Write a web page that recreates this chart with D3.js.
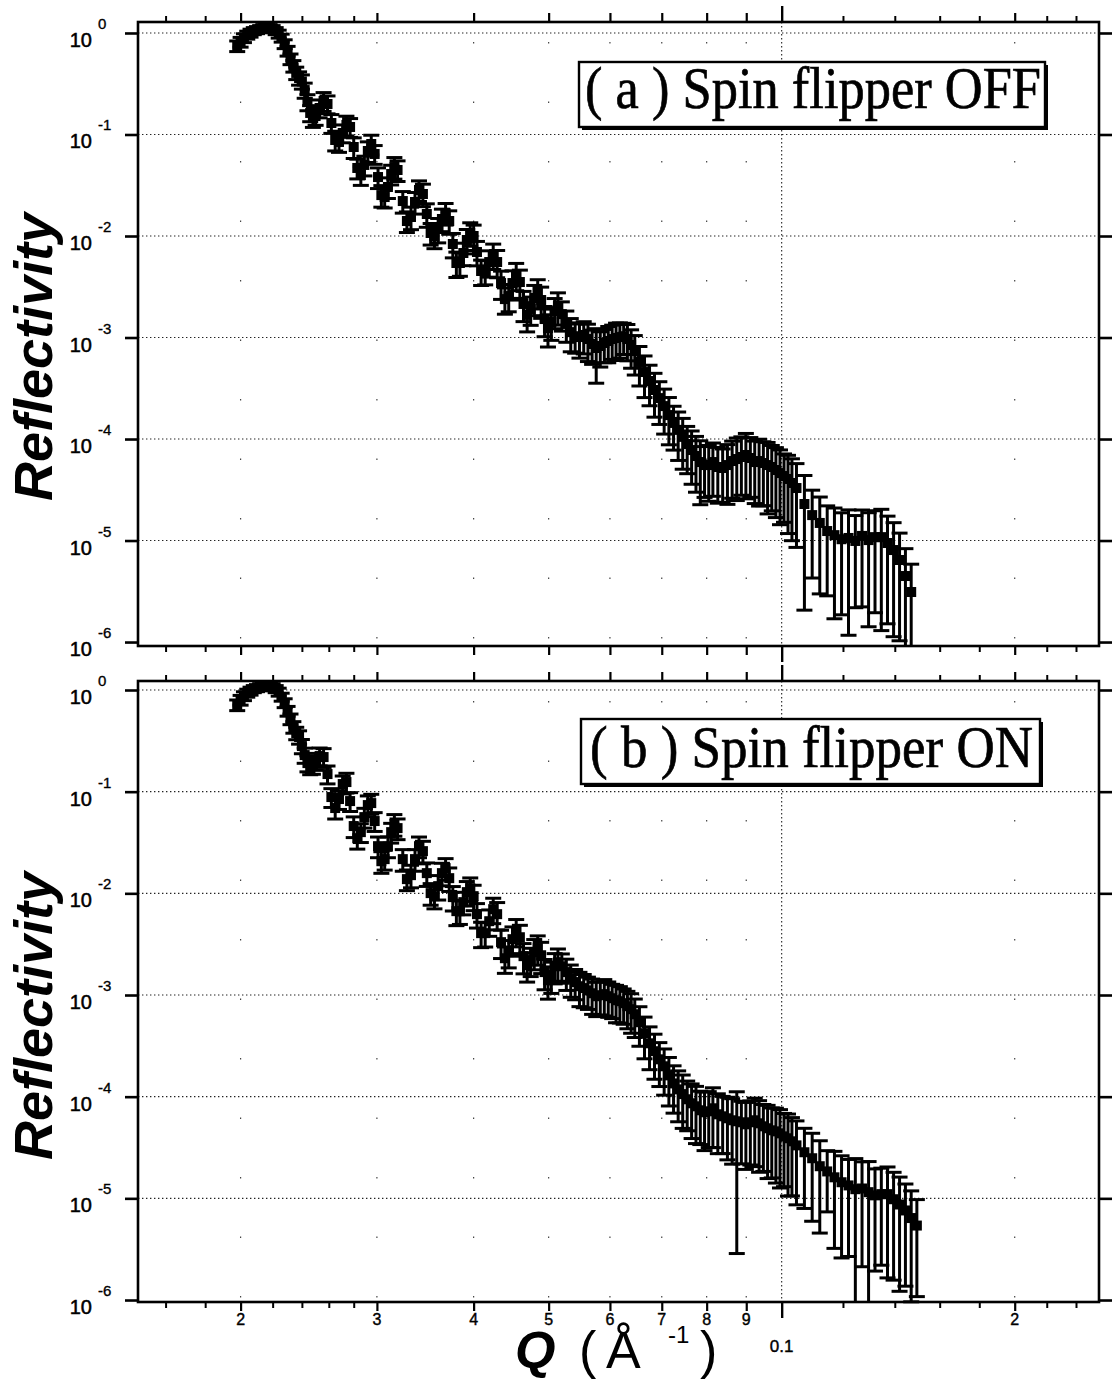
<!DOCTYPE html>
<html>
<head>
<meta charset="utf-8">
<script src="https://cdn.jsdelivr.net/npm/d3@7"></script>
<style>
  body { margin: 0; background: #fff; }
  svg { display: block; }
</style>
</head>
<body>
<div id="chart"></div>
<script>
// Q (1/A), shared by both measurements
const q = [
  0.0198, 0.0200, 0.0202, 0.0204, 0.0206, 0.0208, 0.0210, 0.0212, 0.0214, 0.0216, 0.0218, 0.0220, 0.0222, 0.0224,
  0.0226, 0.0228, 0.0230, 0.0232, 0.0234, 0.0236, 0.0238, 0.0240, 0.0242, 0.0244, 0.0246, 0.0248, 0.0250,
  0.0253, 0.0256, 0.0259, 0.0262, 0.0265, 0.0268, 0.0271, 0.0274, 0.0277, 0.0280, 0.0283, 0.0286,
  0.0289, 0.0292, 0.0295, 0.0298, 0.0301, 0.0304, 0.0307, 0.0310, 0.0313, 0.0316, 0.0319,
  0.0324, 0.0328, 0.0332, 0.0336, 0.0340, 0.0344, 0.0348, 0.0352, 0.0356, 0.0360, 0.0364,
  0.0368, 0.0372, 0.0376, 0.0380, 0.0384, 0.0388, 0.0392, 0.0396, 0.0400, 0.0404,
  0.0409, 0.0414, 0.0419, 0.0424, 0.0429, 0.0434, 0.0439, 0.0444, 0.0449, 0.0454, 0.0459,
  0.0464, 0.0469, 0.0474, 0.0479, 0.0484, 0.0489, 0.0494, 0.0499, 0.0504, 0.0509, 0.0514,
  0.0520, 0.0527, 0.0534, 0.0541, 0.0548, 0.0555, 0.0562, 0.0569, 0.0576, 0.0583,
  0.0590, 0.0597, 0.0604, 0.0611, 0.0618, 0.0625, 0.0632, 0.0639, 0.0646,
  0.0655, 0.0665, 0.0675, 0.0685, 0.0695, 0.0705, 0.0715, 0.0725, 0.0735,
  0.0745, 0.0755, 0.0765, 0.0775, 0.0785, 0.0795, 0.0805, 0.0815,
  0.0827, 0.0839, 0.0851, 0.0863, 0.0875, 0.0887, 0.0899, 0.0911, 0.0923,
  0.0935, 0.0947, 0.0959, 0.0971, 0.0983, 0.0995, 0.1007, 0.1019, 0.1031,
  0.1045, 0.1070, 0.1095, 0.1120, 0.1145, 0.1170, 0.1195, 0.1220, 0.1245, 0.1270,
  0.1295, 0.1320, 0.1345, 0.1370, 0.1395, 0.1420, 0.1445, 0.1470, 0.1495, 0.1520
];

// (a) spin flipper OFF
const rOff = [
  0.745, 0.815, 0.893, 0.956, 1.0, 1.046, 1.07, 1.095, 1.12, 1.12, 1.12, 1.095, 1.046, 0.978,
  0.893, 0.779, 0.665, 0.554, 0.473, 0.404, 0.36, 0.333, 0.274, 0.209, 0.163, 0.145, 0.152,
  0.1824, 0.2138, 0.1998, 0.1298, 0.0883, 0.0844, 0.1035, 0.1241, 0.1186, 0.0753, 0.0468, 0.0399,
  0.0501, 0.0688, 0.0806, 0.0643, 0.0381, 0.0253, 0.0242, 0.0304, 0.0408, 0.0478, 0.0447,
  0.0221, 0.01405, 0.01539, 0.02163, 0.02839, 0.02593, 0.01647, 0.01071, 0.0100, 0.01172, 0.01471,
  0.01685, 0.01405, 0.00834, 0.00542, 0.00542, 0.0068, 0.00913, 0.01071, 0.0100, 0.00696,
  0.00452, 0.00452, 0.00554, 0.0065, 0.00554, 0.00344, 0.00239, 0.00256, 0.00344, 0.00413, 0.00352,
  0.00214, 0.00167, 0.00191, 0.00245, 0.00281, 0.00234, 0.00152, 0.00124, 0.00142, 0.00182, 0.00204,
  0.0017, 0.00136, 0.00113, 0.00103, 0.00101, 0.00106, 0.000966, 0.000863, 0.000788, 0.000825,
  0.000883, 0.000924, 0.000966, 0.000989, 0.00101, 0.00103, 0.000966, 0.000844, 0.000736,
  0.000574, 0.000457, 0.000373, 0.000304, 0.000253, 0.000211, 0.000172, 0.000144, 0.000123,
  0.000105, 8.93e-5, 7.79e-5, 6.8e-5, 5.93e-5, 5.54e-5, 5.54e-5, 5.93e-5,
  5.3e-5, 5.18e-5, 5.54e-5, 6.07e-5, 6.35e-5, 6.65e-5, 6.96e-5, 6.5e-5, 5.93e-5,
  6.07e-5, 5.8e-5, 5.54e-5, 5.3e-5, 4.95e-5, 4.62e-5, 4.32e-5, 4.04e-5, 3.69e-5,
  3.29e-5, 2.29e-5, 1.78e-5, 1.49e-5, 1.24e-5, 1.13e-5, 1.03e-5, 1.06e-5, 9.9e-6, 1.11e-5,
  1.01e-5, 1.08e-5, 1.08e-5, 9.45e-6, 8.06e-6, 6.43e-6, 4.47e-6, 3.11e-6, null, null
];
const errOff = [
  0.12, 0.11, 0.10, 0.09, 0.09, 0.08, 0.08, 0.08, 0.08, 0.08, 0.08, 0.08, 0.08, 0.09,
  0.09, 0.10, 0.11, 0.12, 0.13, 0.14, 0.15, 0.16, 0.17, 0.18, 0.18, 0.19, 0.19,
  0.20, 0.21, 0.20, 0.21, 0.22, 0.21, 0.20, 0.22, 0.21, 0.23, 0.22, 0.21,
  0.22, 0.23, 0.22, 0.21, 0.23, 0.24, 0.22, 0.23, 0.22, 0.24, 0.23,
  0.24, 0.23, 0.25, 0.24, 0.23, 0.25, 0.26, 0.24, 0.25, 0.27, 0.25,
  0.24, 0.26, 0.27, 0.28, 0.26, 0.25, 0.27, 0.26, 0.28, 0.27,
  0.28, 0.27, 0.29, 0.28, 0.30, 0.31, 0.29, 0.30, 0.32, 0.30, 0.31,
  0.33, 0.32, 0.31, 0.33, 0.32, 0.34, 0.33, 0.35, 0.34, 0.33, 0.35,
  0.32, 0.34, 0.36, 0.32, 0.38, 0.35, 0.40, 0.37, 0.55, 0.38,
  0.36, 0.39, 0.37, 0.40, 0.38, 0.34, 0.39, 0.41, 0.42,
  0.42, 0.44, 0.43, 0.46, 0.45, 0.47, 0.49, 0.46, 0.50,
  0.52, 0.49, 0.54, 0.56, 0.62, 0.52, 0.56, 0.54,
  0.56, 0.54, 0.59, 0.57, 0.61, 0.58, 0.63, 0.59, 0.61,
  0.64, 0.62, 0.67, 0.63, 0.66, 0.69, 0.65, 0.71, 0.73,
  0.74, 0.91, 0.76, 0.80, 0.77, 0.85, 0.82, 0.89, 0.78, 0.80,
  0.86, 0.82, 0.88, 0.84, 0.86, 0.84, 0.86, 0.88, null, null
];

// (b) spin flipper ON
const rOn = [
  0.712, 0.797, 0.873, 0.934, 0.978, 1.023, 1.046, 1.07, 1.095, 1.095, 1.095, 1.07, 1.023, 0.956,
  0.853, 0.745, 0.621, 0.518, 0.432, 0.377, 0.345, 0.281, 0.229, 0.191, 0.179, 0.183, 0.2,
  0.224, 0.219, 0.149, 0.0885, 0.069, 0.0846, 0.1188, 0.1243, 0.0808, 0.0459, 0.0349, 0.04,
  0.0562, 0.0738, 0.0772, 0.0514, 0.0291, 0.0207, 0.0217, 0.0291, 0.04, 0.048, 0.0438,
  0.0217, 0.0138, 0.0151, 0.0217, 0.0291, 0.026, 0.0158, 0.01005, 0.00938, 0.01177, 0.0158,
  0.0177, 0.0141, 0.00918, 0.00668, 0.00668, 0.00819, 0.01028, 0.01125, 0.00938, 0.00624,
  0.00406, 0.00406, 0.00532, 0.00699, 0.00624, 0.00331, 0.0023, 0.00264, 0.00354, 0.00425, 0.0037,
  0.00241, 0.00197, 0.0022, 0.00264, 0.00289, 0.00246, 0.00168, 0.0014, 0.00157, 0.00192, 0.0021,
  0.00192, 0.00168, 0.00146, 0.00134, 0.00122, 0.00117, 0.00111, 0.00104, 0.000973, 0.000995,
  0.00102, 0.000973, 0.00093, 0.000889, 0.000869, 0.000831, 0.000776, 0.000725, 0.000647,
  0.00054, 0.000421, 0.000335, 0.00028, 0.000233, 0.000199, 0.000162, 0.000135, 0.000118,
  0.000106, 9.43e-5, 8.61e-5, 8.04e-5, 7.35e-5, 7.02e-5, 7.18e-5, 7.69e-5,
  6.71e-5, 6.41e-5, 6.13e-5, 5.86e-5, 5.73e-5, 5.6e-5, 5.35e-5, 5.6e-5, 5.86e-5,
  5.47e-5, 5.11e-5, 4.89e-5, 4.67e-5, 4.56e-5, 4.36e-5, 4.07e-5, 3.9e-5, 3.64e-5,
  3.32e-5, 2.84e-5, 2.48e-5, 2.07e-5, 1.84e-5, 1.61e-5, 1.44e-5, 1.34e-5, 1.23e-5, 1.25e-5,
  1.15e-5, 1.07e-5, 1.1e-5, 1.1e-5, 9.8e-6, 8.7e-6, 7.6e-6, 6.4e-6, 5.4e-6, null
];
const errOn = [
  0.12, 0.11, 0.10, 0.09, 0.09, 0.08, 0.08, 0.08, 0.08, 0.08, 0.08, 0.08, 0.08, 0.09,
  0.09, 0.10, 0.11, 0.12, 0.13, 0.14, 0.15, 0.16, 0.17, 0.18, 0.18, 0.19, 0.19,
  0.20, 0.21, 0.20, 0.21, 0.22, 0.21, 0.20, 0.22, 0.21, 0.23, 0.22, 0.21,
  0.22, 0.23, 0.22, 0.21, 0.23, 0.24, 0.22, 0.23, 0.22, 0.24, 0.23,
  0.24, 0.23, 0.25, 0.24, 0.23, 0.25, 0.26, 0.24, 0.25, 0.27, 0.25,
  0.24, 0.26, 0.27, 0.28, 0.26, 0.25, 0.27, 0.26, 0.28, 0.27,
  0.28, 0.27, 0.29, 0.28, 0.30, 0.31, 0.29, 0.30, 0.32, 0.30, 0.31,
  0.33, 0.32, 0.31, 0.33, 0.32, 0.34, 0.33, 0.35, 0.34, 0.33, 0.35,
  0.32, 0.34, 0.35, 0.33, 0.37, 0.36, 0.35, 0.38, 0.37, 0.36,
  0.39, 0.38, 0.37, 0.40, 0.39, 0.38, 0.40, 0.42, 0.41,
  0.42, 0.44, 0.45, 0.47, 0.46, 0.48, 0.50, 0.49, 0.52,
  0.54, 0.51, 0.55, 0.57, 0.54, 0.58, 0.56, 0.59,
  0.59, 0.57, 0.61, 0.63, 0.95, 0.61, 0.64, 0.62, 0.65,
  0.67, 0.64, 0.68, 0.66, 0.69, 0.71, 0.68, 0.73, 0.71,
  0.74, 0.72, 0.76, 0.78, 0.60, 0.80, 0.82, 0.80, 1.0, 0.83,
  1.0, 0.82, 0.80, 0.85, 0.84, 0.86, 0.82, 0.85, 0.80, null
];

// ticks
const xMajorTicks = [0.02, 0.03, 0.04, 0.05, 0.06, 0.07, 0.08, 0.09, 0.2];
const xMajorLabels = ["2", "3", "4", "5", "6", "7", "8", "9", "2"];
const xMinorTicks = [0.016, 0.018, 0.022, 0.024, 0.026, 0.028, 0.12, 0.14, 0.16, 0.18, 0.22, 0.24];
const xDecadeTick = 0.1;
const yTicks = [1, 1e-1, 1e-2, 1e-3, 1e-4, 1e-5, 1e-6];
const yTickExp = ["0", "-1", "-2", "-3", "-4", "-5", "-6"];

const W = 1115, H = 1390;
const sans = "'Liberation Sans', Arial, Helvetica, sans-serif";
const serif = "'Liberation Serif', 'Times New Roman', serif";

const svg = d3.select("#chart").append("svg").attr("width", W).attr("height", H);

const left = 138, right = 1099;
const x = d3.scaleLog().domain([0.01474, 0.257]).range([left, right]);

const panels = [
  {
    label: "( a ) Spin flipper OFF", r: rOff, err: errOff,
    top: 22, bottom: 646, yDomain: [1.283, 9.14e-7],
    box: { x: 579, y: 62, w: 466, h: 65, tx: 585, ty: 108, tw: 456 },
    titleY: 357, xLabels: false
  },
  {
    label: "( b ) Spin flipper ON", r: rOn, err: errOn,
    top: 681, bottom: 1302, yDomain: [1.226, 9.56e-7],
    box: { x: 581, y: 719, w: 459, h: 65, tx: 590, ty: 767, tw: 443 },
    titleY: 1016, xLabels: true
  }
];

function styleAxis(g, width) {
  g.select(".domain").remove();
  g.selectAll(".tick line").attr("stroke", "#000").attr("stroke-width", width);
  g.selectAll(".tick text").remove();
}

panels.forEach(p => {
  const y = d3.scaleLog().domain(p.yDomain).range([p.top, p.bottom]);
  const g = svg.append("g");

  // faint dotted verticals at the labelled ticks (mostly lost in the print)
  g.append("g").selectAll("line")
    .data(xMajorTicks)
    .join("line")
    .attr("x1", d => x(d)).attr("x2", d => x(d))
    .attr("y1", p.top + 20).attr("y2", p.bottom - 4)
    .attr("stroke", "#444").attr("stroke-width", 1.2)
    .attr("stroke-dasharray", "1.5,58");

  // dotted grid
  g.append("g").selectAll("line")
    .data(yTicks.filter(t => y(t) < p.bottom - 6))
    .join("line")
    .attr("x1", left).attr("x2", right)
    .attr("y1", d => y(d)).attr("y2", d => y(d))
    .attr("stroke", "#222").attr("stroke-width", 1.1)
    .attr("stroke-dasharray", "1.4,2.6");
  g.append("line")
    .attr("x1", x(xDecadeTick)).attr("x2", x(xDecadeTick))
    .attr("y1", p.top).attr("y2", p.bottom)
    .attr("stroke", "#222").attr("stroke-width", 1.1)
    .attr("stroke-dasharray", "1.4,2.6");

  // data with error bars
  const pts = q.map((d, i) => ({ q: d, r: p.r[i], e: p.err[i] })).filter(d => d.r != null);
  const yMin = p.yDomain[1];
  pts.forEach(d => {
    d.cx = x(d.q);
    d.cy = y(d.r);
    d.hi = y(d.r * (1 + d.e));
    const lo = d.r * (1 - d.e);
    d.clipped = lo <= yMin;
    d.lo = d.clipped ? p.bottom : y(lo);
  });

  const data = g.append("g");
  data.selectAll(".bar")
    .data(pts).join("line")
    .attr("class", "bar")
    .attr("x1", d => d.cx).attr("x2", d => d.cx)
    .attr("y1", d => d.hi).attr("y2", d => d.lo)
    .attr("stroke", "#000").attr("stroke-width", 3);
  data.selectAll(".capHi")
    .data(pts).join("line")
    .attr("class", "capHi")
    .attr("x1", d => d.cx - 8).attr("x2", d => d.cx + 8)
    .attr("y1", d => d.hi).attr("y2", d => d.hi)
    .attr("stroke", "#000").attr("stroke-width", 3);
  data.selectAll(".capLo")
    .data(pts.filter(d => !d.clipped)).join("line")
    .attr("class", "capLo")
    .attr("x1", d => d.cx - 8).attr("x2", d => d.cx + 8)
    .attr("y1", d => d.lo).attr("y2", d => d.lo)
    .attr("stroke", "#000").attr("stroke-width", 3);
  data.selectAll(".mark")
    .data(pts).join("rect")
    .attr("class", "mark")
    .attr("x", d => d.cx - 5).attr("y", d => d.cy - 5)
    .attr("width", 10).attr("height", 10)
    .attr("fill", "#000");

  // frame
  g.append("rect")
    .attr("x", left).attr("y", p.top)
    .attr("width", right - left).attr("height", p.bottom - p.top)
    .attr("fill", "none").attr("stroke", "#000").attr("stroke-width", 2.6);

  // x ticks, outward on top and bottom
  [[d3.axisBottom, p.bottom], [d3.axisTop, p.top]].forEach(([axisFn, pos]) => {
    g.append("g").attr("transform", `translate(0,${pos})`)
      .call(axisFn(x).tickValues(xMajorTicks).tickSize(9).tickFormat(""))
      .call(a => styleAxis(a, 2.2));
    g.append("g").attr("transform", `translate(0,${pos})`)
      .call(axisFn(x).tickValues(xMinorTicks).tickSize(6).tickFormat(""))
      .call(a => styleAxis(a, 2));
    g.append("g").attr("transform", `translate(0,${pos})`)
      .call(axisFn(x).tickValues([xDecadeTick]).tickSize(16).tickFormat(""))
      .call(a => styleAxis(a, 2.4));
  });

  // y ticks, outward on both sides
  g.append("g").attr("transform", `translate(${left},0)`)
    .call(d3.axisLeft(y).tickValues(yTicks).tickSize(13).tickFormat(""))
    .call(a => styleAxis(a, 2.6));
  g.append("g").attr("transform", `translate(${right},0)`)
    .call(d3.axisRight(y).tickValues(yTicks).tickSize(13).tickFormat(""))
    .call(a => styleAxis(a, 2.6));

  // y tick labels 10^n
  const yl = g.append("g").attr("font-family", sans).attr("fill", "#000");
  yl.selectAll(".base")
    .data(yTicks).join("text")
    .attr("class", "base")
    .attr("x", 92).attr("y", d => y(d) + 14)
    .attr("text-anchor", "end")
    .attr("font-size", 20)
    .attr("stroke", "#000").attr("stroke-width", 0.5)
    .text("10");
  yl.selectAll(".exp")
    .data(yTicks).join("text")
    .attr("class", "exp")
    .attr("x", 98).attr("y", d => y(d) - 4)
    .attr("font-size", 15)
    .attr("stroke", "#000").attr("stroke-width", 0.35)
    .text((d, i) => yTickExp[i]);

  // x tick labels (bottom panel only)
  if (p.xLabels) {
    const xl = g.append("g").attr("font-family", sans).attr("fill", "#000")
      .attr("text-anchor", "middle").attr("stroke", "#000").attr("stroke-width", 0.4);
    xl.selectAll(".xl")
      .data(xMajorTicks).join("text")
      .attr("class", "xl")
      .attr("x", d => x(d)).attr("y", p.bottom + 23)
      .attr("font-size", 16)
      .text((d, i) => xMajorLabels[i]);
    xl.append("text")
      .attr("x", x(xDecadeTick)).attr("y", p.bottom + 50)
      .attr("font-size", 17)
      .text("0.1");
  }

  // legend box with shadow
  const b = p.box;
  g.append("rect").attr("x", b.x + 3).attr("y", b.y + 3).attr("width", b.w).attr("height", b.h).attr("fill", "#000");
  g.append("rect").attr("x", b.x).attr("y", b.y).attr("width", b.w).attr("height", b.h)
    .attr("fill", "#fff").attr("stroke", "#000").attr("stroke-width", 2.4);
  g.append("text")
    .attr("transform", `translate(${b.tx},${b.ty}) scale(1,1.14)`)
    .attr("font-family", serif).attr("font-size", 52)
    .attr("stroke", "#000").attr("stroke-width", 0.6)
    .attr("textLength", b.tw).attr("lengthAdjust", "spacingAndGlyphs")
    .text(p.label);

  // y title
  g.append("text")
    .attr("transform", `translate(52,${p.titleY}) rotate(-90)`)
    .attr("text-anchor", "middle")
    .attr("font-family", sans).attr("font-size", 54)
    .attr("font-weight", "bold").attr("font-style", "italic")
    .text("Reflectivity");
});

// x title: Q ( A^-1 )
const xt = svg.append("g").attr("fill", "#000");
xt.append("text").attr("x", 515).attr("y", 1368)
  .attr("font-family", sans).attr("font-size", 52)
  .attr("font-weight", "bold").attr("font-style", "italic").text("Q");
xt.append("text").attr("x", 579).attr("y", 1368)
  .attr("font-family", sans).attr("font-size", 52).text("(");
xt.append("text").attr("x", 606).attr("y", 1368)
  .attr("font-family", sans).attr("font-size", 52).text("Å");
xt.append("text").attr("x", 668).attr("y", 1343)
  .attr("font-family", sans).attr("font-size", 24).text("-1");
xt.append("text").attr("x", 700).attr("y", 1368)
  .attr("font-family", sans).attr("font-size", 52).text(")");
</script>
</body>
</html>
